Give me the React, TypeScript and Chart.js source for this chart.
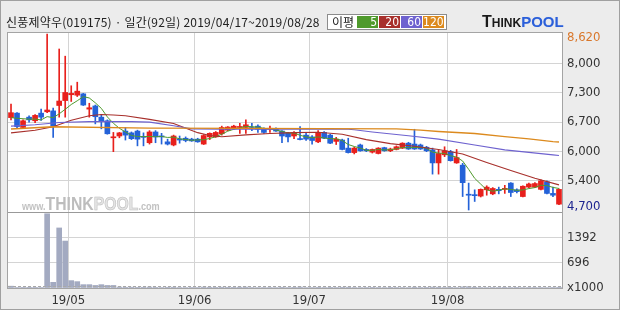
import React, { useEffect, useRef } from 'react';
import { Chart, registerables } from 'chart.js';

Chart.register(...registerables);

// ---------- data ----------
const aprDays = [17, 18, 19, 22, 23, 24, 25, 26, 29, 30];
const mayDays = [2, 3, 7, 8, 9, 10, 13, 14, 15, 16, 17, 20, 21, 22, 23, 24, 27, 28, 29, 30, 31];
const junDays = [3, 4, 5, 7, 10, 11, 12, 13, 14, 17, 18, 19, 20, 21, 24, 25, 26, 27, 28];
const julDays = [1, 2, 3, 4, 5, 8, 9, 10, 11, 12, 15, 16, 17, 18, 19, 22, 23, 24, 25, 26, 29, 30, 31];
const augDays = [1, 2, 5, 6, 7, 8, 9, 12, 13, 14, 16, 19, 20, 21, 22, 23, 26, 27, 28];
const months: [string, number[]][] = [['04', aprDays], ['05', mayDays], ['06', junDays], ['07', julDays], ['08', augDays]];
const categories: string[] = months.flatMap(([m, ds]) => ds.map((d) => `19/${m}/${String(d).padStart(2, '0')}`));

const opens = [6760, 6860, 6540, 6770, 6690, 6860, 6890, 6910, 7030, 7140, 7270, 7260, 7290, 6950, 7020, 6770, 6690, 6310, 6350, 6460, 6420, 6460, 6330, 6200, 6440, 6340, 6220, 6150, 6280, 6300, 6280, 6280, 6170, 6330, 6330, 6400, 6480, 6520, 6540, 6540, 6540, 6570, 6520, 6500, 6520, 6460, 6410, 6350, 6280, 6370, 6330, 6220, 6430, 6370, 6230, 6260, 6080, 5980, 6150, 6050, 5990, 5960, 6090, 6020, 6050, 6080, 6190, 6170, 6150, 6100, 6040, 5750, 5930, 6000, 5750, 5700, 5050, 5040, 5010, 5150, 5060, 5160, 5160, 5300, 5150, 5000, 5210, 5210, 5160, 5330, 5070, 4830];
const highs = [7060, 6870, 6710, 6800, 6830, 6950, 8620, 6970, 8290, 8130, 7470, 7550, 7300, 7080, 7040, 6830, 6710, 6430, 6430, 6540, 6440, 6480, 6420, 6470, 6470, 6410, 6280, 6370, 6350, 6330, 6300, 6300, 6380, 6420, 6450, 6570, 6560, 6590, 6630, 6710, 6630, 6600, 6530, 6570, 6530, 6470, 6430, 6450, 6560, 6410, 6360, 6470, 6450, 6390, 6320, 6280, 6300, 6100, 6170, 6070, 6060, 6090, 6100, 6080, 6130, 6200, 6210, 6500, 6170, 6120, 6080, 6040, 6110, 6030, 6050, 5740, 5300, 5150, 5170, 5240, 5200, 5210, 5250, 5310, 5170, 5240, 5300, 5310, 5370, 5350, 5210, 5170];
const lows = [6710, 6530, 6520, 6660, 6650, 6700, 6870, 6320, 6770, 6770, 7120, 7230, 7030, 6770, 6620, 6510, 6390, 6000, 6310, 6260, 6270, 6130, 6130, 6170, 6200, 6170, 6150, 6130, 6190, 6220, 6230, 6210, 6160, 6270, 6320, 6370, 6470, 6500, 6410, 6410, 6470, 6430, 6410, 6430, 6450, 6200, 6220, 6290, 6260, 6250, 6170, 6200, 6290, 6180, 6160, 6040, 5970, 5950, 6010, 6000, 5970, 5950, 6010, 6000, 6040, 6070, 6050, 6050, 6050, 6000, 5500, 5500, 5890, 5790, 5740, 5000, 4700, 4890, 4990, 5030, 5040, 5060, 5070, 5000, 5080, 4990, 5200, 5200, 5150, 5060, 5000, 4820];
const closes = [6870, 6560, 6690, 6710, 6810, 6770, 6930, 6580, 7130, 7320, 7300, 7350, 7040, 6980, 6780, 6680, 6400, 6330, 6420, 6370, 6290, 6280, 6320, 6440, 6330, 6330, 6170, 6350, 6260, 6250, 6240, 6220, 6360, 6410, 6430, 6540, 6550, 6570, 6560, 6600, 6510, 6500, 6430, 6520, 6460, 6350, 6330, 6420, 6270, 6280, 6250, 6430, 6300, 6190, 6280, 6050, 5980, 6080, 6020, 6020, 6050, 6080, 6020, 6060, 6110, 6190, 6060, 6060, 6060, 6020, 5750, 5960, 6020, 5800, 5870, 5310, 5030, 5020, 5160, 5210, 5180, 5130, 5180, 5090, 5110, 5230, 5280, 5290, 5350, 5070, 5030, 5160];
// volume, thousands of shares
const volumes = [50, 12, 10, 8, 10, 15, 2040, 156, 1650, 1290, 203, 175, 92, 92, 70, 92, 70, 70, 25, 20, 22, 18, 20, 25, 18, 15, 20, 22, 15, 14, 12, 15, 25, 20, 18, 22, 20, 18, 22, 25, 15, 14, 15, 12, 14, 20, 15, 18, 25, 14, 15, 20, 15, 18, 12, 20, 22, 15, 14, 12, 10, 12, 14, 10, 12, 15, 14, 22, 12, 10, 25, 22, 15, 18, 14, 30, 35, 20, 15, 14, 12, 12, 10, 15, 10, 14, 12, 12, 15, 14, 12, 20];

const ma5 = [6760, 6745, 6735, 6725, 6728, 6708, 6782, 6760, 6844, 6946, 7052, 7136, 7228, 7198, 7090, 6966, 6776, 6634, 6522, 6440, 6362, 6338, 6336, 6340, 6332, 6340, 6318, 6324, 6288, 6272, 6254, 6264, 6266, 6296, 6332, 6392, 6458, 6500, 6530, 6564, 6558, 6548, 6520, 6512, 6484, 6452, 6418, 6416, 6366, 6330, 6310, 6330, 6306, 6290, 6290, 6250, 6160, 6116, 6082, 6030, 6030, 6050, 6038, 6046, 6064, 6092, 6088, 6096, 6096, 6078, 5990, 5970, 5962, 5910, 5880, 5792, 5606, 5406, 5278, 5146, 5120, 5140, 5172, 5158, 5138, 5148, 5178, 5200, 5252, 5244, 5204, 5180];
const ma20Idx = [0, 4, 7, 10, 13, 15, 17, 19, 23, 27, 31, 33, 35, 39, 43, 47, 51, 55, 59, 63, 67, 71, 75, 79, 83, 87, 91];
const ma20Val = [6420, 6480, 6555, 6700, 6800, 6830, 6820, 6800, 6720, 6630, 6425, 6360, 6335, 6375, 6405, 6425, 6435, 6390, 6270, 6180, 6120, 6050, 5950, 5760, 5580, 5410, 5260];
const ma60Idx = [0, 4, 8, 13, 20, 23, 27, 30, 35, 45, 56, 57, 60, 66, 71, 77, 82, 86, 90, 91];
const ma60Val = [6570, 6600, 6650, 6670, 6670, 6660, 6580, 6510, 6500, 6500, 6500, 6490, 6440, 6355, 6280, 6150, 6040, 5985, 5930, 5915];
const ma120Idx = [0, 7, 23, 40, 64, 68, 71, 77, 82, 86, 90, 91];
const ma120Val = [6505, 6555, 6525, 6520, 6510, 6480, 6450, 6405, 6335, 6285, 6225, 6215];

const priceMin = 4700;
const priceMax = 8620;
const priceTickLabels = ['4,700', '5,400', '6,000', '6,700', '7,300', '8,000', '8,620'];
const volMax = 2088;
const volTickValues = [0, 696, 1392];
const volTickLabels = ['x1000', '696', '1392'];
const maPeriods = ['5', '20', '60', '120'];

// ---------- style ----------
const UP = '#e8201c';
const DOWN = '#2462d8';
const VOL = '#a3aac1';
const MA_COLORS = ['#4f9a2c', '#a8302c', '#6e62cf', '#dc8a1e'];
const GRID = '#d4d4d4';
const NARROW = "'Liberation Sans Narrow','DejaVu Sans Condensed','Liberation Sans',sans-serif";
const KFONT = "'Liberation Sans Narrow','Noto Sans CJK KR',sans-serif";

const monthLabelAt = (i: number) =>
  i > 0 && i < categories.length && categories[i].slice(0, 5) !== categories[i - 1].slice(0, 5) ? categories[i].slice(0, 5) : '';

const sparse = (idx: number[], val: number[]) => idx.map((k, j) => ({ x: categories[k], y: val[j] }));

const framePlugin = {
  id: 'frame',
  beforeDraw(chart: any) {
    const { ctx, chartArea: a } = chart;
    ctx.save();
    ctx.fillStyle = '#ffffff';
    ctx.fillRect(a.left, a.top, a.right - a.left, a.bottom - a.top);
    ctx.restore();
  },
  afterDraw(chart: any) {
    const { ctx, chartArea: a, scales } = chart;
    ctx.save();
    ctx.lineWidth = 1;
    const y0 = Math.round(scales.yv.getPixelForValue(0)) - 1.5;
    ctx.strokeStyle = '#a8a8a8';
    ctx.setLineDash([3, 2]);
    ctx.beginPath();
    ctx.moveTo(a.left, y0);
    ctx.lineTo(a.right, y0);
    ctx.stroke();
    ctx.setLineDash([]);
    const yd = Math.round(scales.y.bottom) + 0.5;
    ctx.strokeStyle = '#999999';
    ctx.beginPath();
    ctx.moveTo(a.left, yd);
    ctx.lineTo(a.right, yd);
    ctx.stroke();
    ctx.strokeStyle = '#a4a4a4';
    ctx.strokeRect(Math.round(a.left) - 0.5, Math.round(a.top) - 0.5, Math.round(a.right - a.left) + 1, Math.round(a.bottom - a.top) + 1);
    ctx.restore();
  },
};

export default function App() {
  const ref = useRef<HTMLCanvasElement | null>(null);

  useEffect(() => {
    document.body.style.margin = '0';
    if (!ref.current) return;
    const colors = closes.map((c, i) => (c >= opens[i] ? UP : DOWN));
    const step = (priceMax - priceMin) / 6;
    const priceTickValues = [priceMin + 0.11 * step, priceMin + step, priceMin + 2 * step, priceMin + 3 * step, priceMin + 4 * step, priceMin + 5 * step, priceMax - 0.105 * step];
    const ppx = (priceMax - priceMin) / 175.8;
    const lineDs = (label: string, data: any, color: string, width = 1.1) => ({
      type: 'line' as const,
      label,
      data,
      borderColor: color,
      borderWidth: width,
      pointRadius: 0,
      spanGaps: true,
      tension: 0,
      yAxisID: 'y',
      order: 0,
    });
    const chart = new Chart(ref.current, {
      type: 'bar',
      data: {
        labels: categories,
        datasets: [
          {
            type: 'bar',
            label: 'wick',
            data: lows.map((l, i) => [l, highs[i]]),
            backgroundColor: colors,
            barThickness: 1,
            grouped: false,
            yAxisID: 'y',
            order: 3,
          } as any,
          {
            type: 'bar',
            label: 'body',
            data: opens.map((o, i) => [o, closes[i]]),
            backgroundColor: colors,
            barThickness: 5,
            minBarLength: 1,
            grouped: false,
            yAxisID: 'y',
            order: 2,
          } as any,
          {
            type: 'bar',
            label: 'volume',
            data: volumes,
            backgroundColor: VOL,
            barThickness: 5,
            grouped: false,
            yAxisID: 'yv',
            order: 2,
          } as any,
          lineDs('MA120', sparse(ma120Idx, ma120Val), MA_COLORS[3], 1.4),
          lineDs('MA60', sparse(ma60Idx, ma60Val), MA_COLORS[2]),
          lineDs('MA20', sparse(ma20Idx, ma20Val), MA_COLORS[1]),
          lineDs('MA5', ma5, MA_COLORS[0], 1),
        ],
      },
      options: {
        responsive: false,
        animation: false,
        devicePixelRatio: 1,
        events: [],
        layout: { padding: { left: 8, top: 33, right: 0, bottom: 0 } },
        plugins: { legend: { display: false }, tooltip: { enabled: false }, title: { display: false } },
        scales: {
          x: {
            type: 'category',
            offset: true,
            grid: {
              offset: true,
              drawTicks: false,
              color: (c: any) => (monthLabelAt(c.index) ? GRID : 'rgba(0,0,0,0)'),
            },
            border: { display: false },
            ticks: {
              autoSkip: false,
              maxRotation: 0,
              minRotation: 0,
              padding: 5,
              labelOffset: -3,
              color: '#333',
              font: { family: NARROW, size: 13 },
              callback: (_v: any, i: number) => monthLabelAt(i),
            },
            afterFit: (s: any) => {
              s.height = 22;
            },
          },
          y: {
            type: 'linear',
            position: 'right',
            stack: 'panels',
            stackWeight: 179,
            min: priceMin - 2 * ppx,
            max: priceMax + 1.2 * ppx,
            afterBuildTicks: (s: any) => {
              s.ticks = priceTickValues.map((v) => ({ value: v }));
            },
            grid: {
              drawTicks: false,
              lineWidth: 1,
              color: (c: any) => (c.index === 0 || c.index === priceTickLabels.length - 1 ? 'rgba(0,0,0,0)' : GRID),
            },
            border: { display: false },
            ticks: {
              autoSkip: false,
              padding: 5,
              font: { family: NARROW, size: 13 },
              color: (c: any) => (c.index === priceTickLabels.length - 1 ? '#d9772b' : c.index === 0 ? '#1c2490' : '#333'),
              callback: (_v: any, i: number) => priceTickLabels[i],
            },
            afterFit: (s: any) => {
              s.width = 58;
            },
          },
          yv: {
            type: 'linear',
            position: 'right',
            stack: 'panels',
            stackWeight: 76,
            min: 0,
            max: volMax,
            afterBuildTicks: (s: any) => {
              s.ticks = volTickValues.map((v) => ({ value: v }));
            },
            grid: {
              drawTicks: false,
              lineWidth: 1,
              color: (c: any) => (c.index === 0 ? 'rgba(0,0,0,0)' : GRID),
            },
            border: { display: false },
            ticks: {
              autoSkip: false,
              padding: 5,
              font: { family: NARROW, size: 13 },
              color: '#333',
              callback: (_v: any, i: number) => volTickLabels[i],
            },
            afterFit: (s: any) => {
              s.width = 58;
            },
          },
        },
      } as any,
      plugins: [framePlugin],
    });
    return () => chart.destroy();
  }, []);

  const swatch = (txt: string, color: string) => (
    <span
      key={txt}
      style={{
        display: 'inline-block',
        width: 21,
        height: 12,
        marginRight: 1,
        background: color,
        color: '#fff',
        fontSize: 12,
        lineHeight: '12px',
        textAlign: 'right',
        paddingRight: 1,
        boxSizing: 'border-box',
        fontFamily: NARROW,
      }}
    >
      {txt}
    </span>
  );

  return (
    <div
      style={{
        position: 'fixed',
        left: 0,
        top: 0,
        width: 620,
        height: 310,
        background: '#ececec',
        border: '1px solid #a0a0a0',
        boxSizing: 'border-box',
        overflow: 'hidden',
      }}
    >
      <canvas ref={ref} width={620} height={310} style={{ position: 'absolute', left: -1, top: -1, width: 620, height: 310 }} />
      <div
        style={{
          position: 'absolute',
          left: 5,
          top: 13,
          fontFamily: KFONT,
          fontSize: 12,
          letterSpacing: '0.2px',
          lineHeight: '16px',
          color: '#222',
          whiteSpace: 'nowrap',
        }}
      >
        신풍제약우(019175) · 일간(92일) 2019/04/17~2019/08/28
      </div>
      <div
        style={{
          position: 'absolute',
          left: 326,
          top: 13,
          width: 120,
          height: 16,
          border: '1px solid #8c8c8c',
          background: '#fff',
          boxSizing: 'border-box',
          display: 'flex',
          alignItems: 'center',
          paddingLeft: 4,
          whiteSpace: 'nowrap',
        }}
      >
        <span style={{ fontFamily: "'Noto Sans CJK KR',sans-serif", fontSize: 12, lineHeight: '12px', marginRight: 3, color: '#222' }}>이평</span>
        {maPeriods.map((p, i) => swatch(p, MA_COLORS[i]))}
      </div>
      <div
        style={{
          position: 'absolute',
          left: 481,
          top: 12,
          whiteSpace: 'nowrap',
          fontFamily: "'Liberation Sans','Arial',sans-serif",
          fontWeight: 'bold',
          lineHeight: '18px',
        }}
      >
        <span style={{ fontSize: 16, color: '#1a1a1a' }}>T</span>
        <span style={{ fontSize: 12, color: '#1a1a1a' }}>HINK</span>
        <span style={{ fontSize: 15, color: '#2b5fd9', textShadow: '0 0 1px #c8d4f0' }}>POOL</span>
      </div>
      <div
        style={{
          position: 'absolute',
          left: 21,
          top: 193,
          whiteSpace: 'nowrap',
          fontFamily: "'Liberation Sans',sans-serif",
          color: '#c2c2c2',
          lineHeight: '20px',
          transform: 'scaleX(0.83)',
          transformOrigin: 'left center',
        }}
      >
        <span style={{ fontSize: 11, fontWeight: 'bold' }}>www.</span>
        <span style={{ fontSize: 19, fontWeight: 'bold', color: '#bdbdbd' }}>THINK</span>
        <span style={{ fontSize: 19, fontWeight: 'bold', color: '#e4e4e4', WebkitTextStroke: '0.6px #bdbdbd' }}>POOL</span>
        <span style={{ fontSize: 11, fontWeight: 'bold' }}>.com</span>
      </div>
    </div>
  );
}
